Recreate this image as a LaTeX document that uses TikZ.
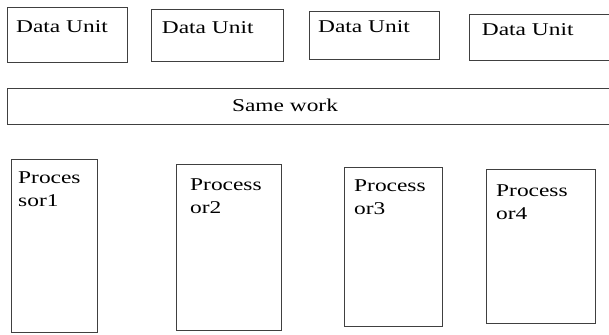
\documentclass[tikz,border=0pt]{standalone}
\usepackage{fontspec}
\setmainfont[FakeStretch=1.3]{Liberation Serif}
\begin{document}
\begin{tikzpicture}[x=1pt,y=-1pt,
  box/.style={draw=black!75, line width=1pt, fill=white, inner sep=0pt,
              anchor=north west},
  lbl/.style={font=\fontsize{18}{23}\selectfont, inner sep=0pt,
              anchor=base west, align=left}]
\useasboundingbox (0,0) rectangle (609,334);
\clip (0,0) rectangle (609,334);

% data units
\node[box, minimum width=120pt, minimum height=55pt] (d1) at (7,7) {};
\node[box, minimum width=132pt, minimum height=52pt] (d2) at (151,9.5) {};
\node[box, minimum width=130pt, minimum height=48pt] (d3) at (309,11) {};
\node[box, minimum width=150pt, minimum height=46pt] (d4) at (469,14) {};
\node[lbl] (t1) at (16,32.3) {Data Unit};
\node[lbl] (t2) at (161.7,33.3) {Data Unit};
\node[lbl] (t3) at (318,32.3) {Data Unit};
\node[lbl] (t4) at (481.7,35.7) {Data Unit};

% shared task
\node[box, minimum width=610pt, minimum height=36pt] (same) at (7,88) {};
\node[lbl, anchor=base] (ts) at (285,111) {Same work};

% processors (label anchored at the baseline of its second line)
\node[box, minimum width=86pt, minimum height=172.5pt] (p1) at (10.7,159) {};
\node[box, minimum width=105pt, minimum height=166pt] (p2) at (175.7,164) {};
\node[box, minimum width=98.3pt, minimum height=159pt] (p3) at (344,166.7) {};
\node[box, minimum width=109.3pt, minimum height=153.7pt] (p4) at (485.7,169) {};
\node[lbl] (q1) at (18,206.3) {Proces\\sor1};
\node[lbl] (q2) at (190,213) {Process\\or2};
\node[lbl] (q3) at (354,214.7) {Process\\or3};
\node[lbl] (q4) at (496,219) {Process\\or4};
\end{tikzpicture}
\end{document}
